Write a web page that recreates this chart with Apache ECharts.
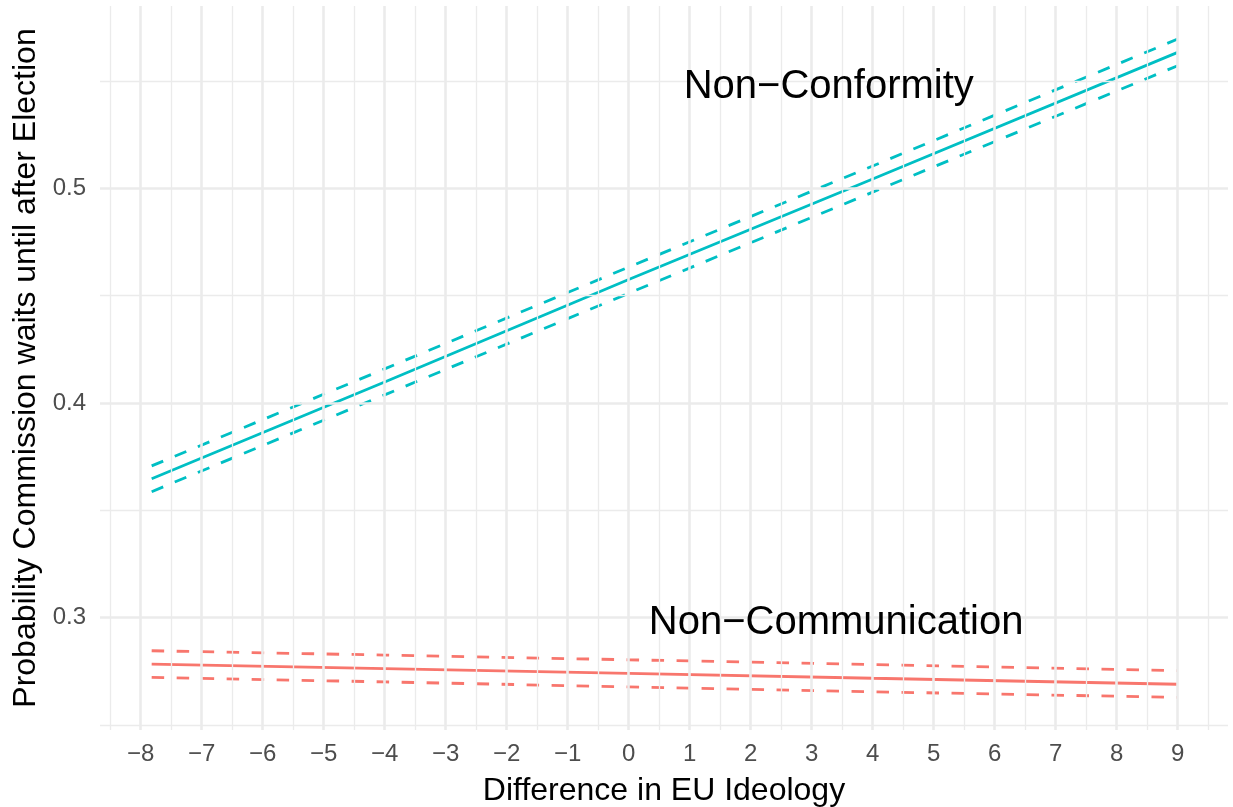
<!DOCTYPE html>
<html>
<head>
<meta charset="utf-8">
<script src="https://cdn.jsdelivr.net/npm/echarts@6/dist/echarts.min.js"></script>
<style>
html,body{margin:0;padding:0;background:#fff;}
#c{width:1233px;height:807px;}
</style>
</head>
<body>
<div id="c"></div>
<script>
// ---- data ----
const xVals = [-7.82, -4, 0, 4, 9];
const confFit   = [0.3647, 0.4098, 0.4575, 0.5043, 0.5633];
const confUpper = [0.3707, 0.4159, 0.4633, 0.5104, 0.5695];
const confLower = [0.3587, 0.4038, 0.4511, 0.4982, 0.5571];
const commFit   = [0.2784, 0.2763, 0.2741, 0.2718, 0.2690];
const commUpper = [0.2846, 0.2826, 0.2804, 0.2782, 0.2753];
const commLower = [0.2722, 0.2701, 0.2678, 0.2655, 0.2629];

const xTicks = [-8,-7,-6,-5,-4,-3,-2,-1,0,1,2,3,4,5,6,7,8,9];
const xMinor = [-8.5,-7.5,-6.5,-5.5,-4.5,-3.5,-2.5,-1.5,-0.5,0.5,1.5,2.5,3.5,4.5,5.5,6.5,7.5,8.5,9.5];
const yTicks = [0.3, 0.4, 0.5];
const yMinor = [0.25, 0.35, 0.45, 0.55];

const labelTexts = ['Non\u2212Conformity', 'Non\u2212Communication'];
const labelX = [3.28, 3.40];
const labelY = [0.5474, 0.2977];

const xRange = [-8.667, 9.825];
const yRange = [0.2477, 0.5849];

const CYAN = '#00BFC4', RED = '#F8766D', GRID = '#EBEBEB';
const FONT = 'Liberation Sans, Arial, Helvetica, sans-serif';

function pairs(ys){ return xVals.map((x,i)=>[x, ys[i]]); }
function fmtX(v){ return v < 0 ? '\u2212' + Math.abs(v) : String(v); }

const gridLines = [];
xMinor.forEach(v => gridLines.push({xAxis: v, lineStyle:{width:1.3, color:GRID, type:'solid'}}));
yMinor.forEach(v => gridLines.push({yAxis: v, lineStyle:{width:1.3, color:GRID, type:'solid'}}));
xTicks.forEach(v => gridLines.push({xAxis: v, lineStyle:{width:2.6, color:GRID, type:'solid'}}));
yTicks.forEach(v => gridLines.push({yAxis: v, lineStyle:{width:2.6, color:GRID, type:'solid'}}));

function lineSeries(name, ys, color, dashed){
  return {
    name, type:'line', data: pairs(ys), symbol:'none', smooth:false, z:3,
    lineStyle:{color, width:2.8, type: dashed ? [12.5,12.5] : 'solid', cap:'butt'},
    silent:true
  };
}

const chart = echarts.init(document.getElementById('c'), null, {renderer:'canvas'});
chart.setOption({
  animation:false,
  backgroundColor:'#ffffff',
  textStyle:{fontFamily:FONT},
  grid:{left:100, right:5, top:6, bottom:77, containLabel:false, outerBoundsMode:'none'},
  xAxis:{
    type:'value', min:xRange[0], max:xRange[1],
    axisLine:{show:false}, axisTick:{show:false}, splitLine:{show:false},
    axisLabel:{customValues:xTicks, formatter:fmtX, color:'#4D4D4D', fontSize:24, margin:12, fontFamily:FONT},
    name:'Difference in EU Ideology', nameLocation:'middle', nameGap:45,
    nameTextStyle:{color:'#000', fontSize:32, fontFamily:FONT}
  },
  yAxis:{
    type:'value', min:yRange[0], max:yRange[1],
    axisLine:{show:false}, axisTick:{show:false}, splitLine:{show:false},
    axisLabel:{customValues:yTicks, formatter:v=>v.toFixed(1), color:'#4D4D4D', fontSize:24, margin:14, fontFamily:FONT},
    name:'Probability Commission waits until after Election', nameLocation:'middle', nameGap:58,
    nameTextStyle:{color:'#000', fontSize:32, fontFamily:FONT}
  },
  series:[
    {type:'line', data:[], z:1, silent:true,
     markLine:{silent:true, symbol:['none','none'], label:{show:false}, animation:false, data:gridLines}},
    lineSeries('confFit', confFit, CYAN, false),
    lineSeries('confUpper', confUpper, CYAN, true),
    lineSeries('confLower', confLower, CYAN, true),
    lineSeries('commFit', commFit, RED, false),
    lineSeries('commUpper', commUpper, RED, true),
    lineSeries('commLower', commLower, RED, true),
    {type:'scatter', symbolSize:0, z:5, silent:true,
     itemStyle:{opacity:1},
     data: labelTexts.map((t,i)=>({value:[labelX[i], labelY[i]], name:t})),
     label:{show:true, position:'inside', formatter:p=>p.name, color:'#000000', opacity:1, fontSize:40, fontFamily:FONT}}
  ]
});
</script>
</body>
</html>
